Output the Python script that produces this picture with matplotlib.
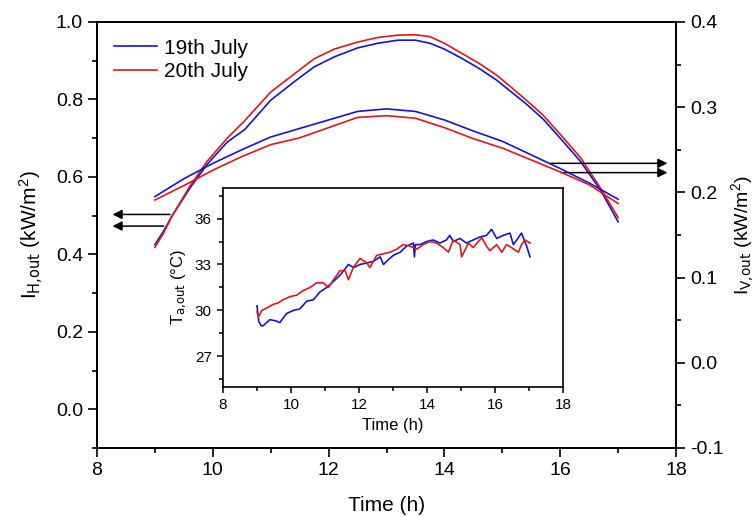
import matplotlib
matplotlib.use("Agg")
import matplotlib.pyplot as plt
from matplotlib.ticker import MultipleLocator

plt.rcParams['font.family'] = ['Liberation Sans', 'DejaVu Sans']
plt.rcParams['mathtext.default'] = 'regular'

# I_H,out (left axis), kW/m2
ih_time = [9.0, 9.15, 9.3, 9.6, 9.9, 10.25, 10.55, 11.0, 11.4, 11.75, 12.1, 12.5, 12.85,
           13.2, 13.5, 13.75, 14.0, 14.3, 14.6, 14.9, 15.15, 15.4, 15.7, 16.0, 16.35, 16.7, 17.0]
ih_19 = [0.425, 0.46, 0.50, 0.57, 0.632, 0.69, 0.722, 0.798, 0.845, 0.884, 0.91, 0.933, 0.945,
         0.953, 0.953, 0.945, 0.93, 0.906, 0.88, 0.850, 0.82, 0.79, 0.75, 0.70, 0.64, 0.565, 0.484]
ih_20 = [0.418, 0.455, 0.50, 0.575, 0.64, 0.70, 0.745, 0.819, 0.865, 0.905, 0.93, 0.948, 0.96,
         0.966, 0.967, 0.962, 0.945, 0.919, 0.893, 0.863, 0.832, 0.80, 0.76, 0.71, 0.65, 0.57, 0.495]

# I_V,out (right axis), kW/m2
iv_time = [9.0, 9.5, 10.0, 10.5, 11.0, 11.5, 12.0, 12.5, 13.0, 13.5, 14.0, 14.5, 15.0, 15.5, 16.0, 16.5, 17.0]
iv_19 = [0.195, 0.216, 0.234, 0.250, 0.265, 0.275, 0.285, 0.295, 0.298, 0.295, 0.285, 0.272,
         0.260, 0.244, 0.228, 0.211, 0.192]
iv_20 = [0.191, 0.208, 0.226, 0.242, 0.256, 0.264, 0.276, 0.288, 0.290, 0.287, 0.276, 0.263,
         0.252, 0.238, 0.224, 0.209, 0.187]

# T_a,out inset, degC
ta_time_19 = [9.0, 9.05, 9.12, 9.18, 9.38, 9.58, 9.67, 9.87, 10.07, 10.26, 10.46, 10.66, 10.85,
              11.05, 11.25, 11.44, 11.69, 11.84, 12.03, 12.23, 12.42, 12.62, 12.72, 12.81, 13.01,
              13.21, 13.4, 13.6, 13.63, 13.66, 13.79, 13.99, 14.18, 14.38, 14.57, 14.67, 14.77,
              14.97, 15.16, 15.36, 15.56, 15.75, 15.9, 16.05, 16.24, 16.44, 16.54, 16.64, 16.78,
              16.93, 17.03]
ta_19 = [30.3, 29.3, 29.0, 29.0, 29.4, 29.3, 29.2, 29.8, 30.0, 30.1, 30.6, 30.7, 31.2,
         31.5, 31.9, 32.3, 33.0, 32.8, 33.0, 33.1, 33.2, 33.5, 33.0, 33.2, 33.6,
         33.8, 34.2, 34.4, 33.5, 34.3, 34.3, 34.5, 34.6, 34.4, 34.6, 34.9, 34.5,
         34.7, 34.4, 34.6, 34.8, 34.9, 35.3, 34.7, 34.9, 35.05, 34.3, 34.6, 35.05,
         34.2, 33.5]
ta_time_20 = [9.0, 9.05, 9.14, 9.28, 9.48, 9.63, 9.77, 9.97, 10.17, 10.36, 10.56, 10.75, 10.95,
              11.1, 11.25, 11.44, 11.59, 11.69, 11.83, 12.03, 12.23, 12.32, 12.52, 12.72, 12.91,
              13.11, 13.3, 13.5, 13.7, 13.89, 14.09, 14.28, 14.48, 14.63, 14.77, 14.97, 15.02,
              15.22, 15.36, 15.51, 15.61, 15.75, 15.85, 16.05, 16.2, 16.34, 16.49, 16.69, 16.78,
              16.88, 17.03]
ta_20 = [29.9, 29.6, 30.0, 30.15, 30.4, 30.5, 30.7, 30.9, 31.0, 31.3, 31.5, 31.8, 31.8,
         31.5, 32.0, 32.6, 32.6, 32.0, 32.8, 33.4, 33.1, 32.8, 33.6, 33.7, 33.8,
         34.0, 34.3, 34.2, 34.0, 34.3, 34.5, 34.4, 34.1, 33.8, 34.6, 34.3, 33.5,
         34.4, 34.1, 34.5, 34.75, 34.2, 33.9, 34.3, 33.8, 34.3, 34.1, 33.8, 34.3,
         34.6, 34.4]

c19 = '#1414d2'
c20 = '#e3161c'

fig = plt.figure(figsize=(7.56, 5.17), dpi=100)
ax = fig.add_axes([0.1283, 0.1335, 0.7659, 0.8240])
ax2 = ax.twinx()

ax.plot(ih_time, ih_19, color=c19, lw=1.2, label='19th July')
ax.plot(ih_time, ih_20, color=c20, lw=1.2, label='20th July')
ax2.plot(iv_time, iv_19, color=c19, lw=1.2)
ax2.plot(iv_time, iv_20, color=c20, lw=1.2)

ax.set_xlim(8, 18)
ax.set_ylim(-0.1, 1.0)
ax2.set_ylim(-0.1, 0.4)
ax.xaxis.set_major_locator(MultipleLocator(2))
ax.xaxis.set_minor_locator(MultipleLocator(1))
ax.set_yticks([0.0, 0.2, 0.4, 0.6, 0.8, 1.0])
ax.yaxis.set_minor_locator(MultipleLocator(0.1))
ax2.yaxis.set_major_locator(MultipleLocator(0.1))
ax2.yaxis.set_minor_locator(MultipleLocator(0.05))
ax.yaxis.set_major_formatter(plt.FormatStrFormatter('%.1f'))
ax2.yaxis.set_major_formatter(plt.FormatStrFormatter('%.1f'))

for a in (ax, ax2):
    for s in a.spines.values():
        s.set_linewidth(1.3)
    a.tick_params(which='major', direction='out', length=6.5, width=1.2, labelsize=14)
    a.tick_params(which='minor', direction='out', length=3.5, width=1.2)

ax.set_xlabel('Time (h)', fontsize=15, labelpad=12)
ax.set_ylabel(r'I$_{\text{H,out}}$ (kW/m$^2$)', fontsize=15, labelpad=8)
ax2.set_ylabel(r'I$_{\text{V,out}}$ (kW/m$^2$)', fontsize=14, rotation=90, labelpad=4)

# arrows pointing to the axes
arr = dict(arrowstyle='-|>', color='black', lw=1.1, mutation_scale=14)
ax.annotate('', xy=(8.22, 0.503), xytext=(9.31, 0.503), arrowprops=arr)
ax.annotate('', xy=(8.22, 0.473), xytext=(9.2, 0.473), arrowprops=arr)
ax.annotate('', xy=(17.9, 0.635), xytext=(15.79, 0.635), arrowprops=arr)
ax.annotate('', xy=(17.9, 0.611), xytext=(15.96, 0.611), arrowprops=arr)

ax.legend(loc='upper left', frameon=False, fontsize=15, handlelength=2.1,
          handletextpad=0.3, labelspacing=0.2, borderaxespad=0.4, bbox_to_anchor=(0.0, 1.0))

# inset
ins = fig.add_axes([0.295, 0.2515, 0.4497, 0.385])
ins.plot(ta_time_19, ta_19, color=c19, lw=1.2)
ins.plot(ta_time_20, ta_20, color=c20, lw=1.2)
ins.set_xlim(8, 18)
ins.set_ylim(25, 38)
ins.xaxis.set_major_locator(MultipleLocator(2))
ins.xaxis.set_minor_locator(MultipleLocator(1))
ins.set_yticks([27, 30, 33, 36])
ins.yaxis.set_minor_locator(MultipleLocator(1.5))
for s in ins.spines.values():
    s.set_linewidth(1.2)
ins.tick_params(which='major', direction='out', length=4.5, width=1.1, labelsize=11)
ins.tick_params(which='minor', direction='out', length=3, width=1.1)
ins.set_xlabel('Time (h)', fontsize=12, labelpad=4)
ins.set_ylabel(r'T$_{\text{a,out}}$ (°C)', fontsize=12, labelpad=4)

fig.savefig('out.png', dpi=100)
